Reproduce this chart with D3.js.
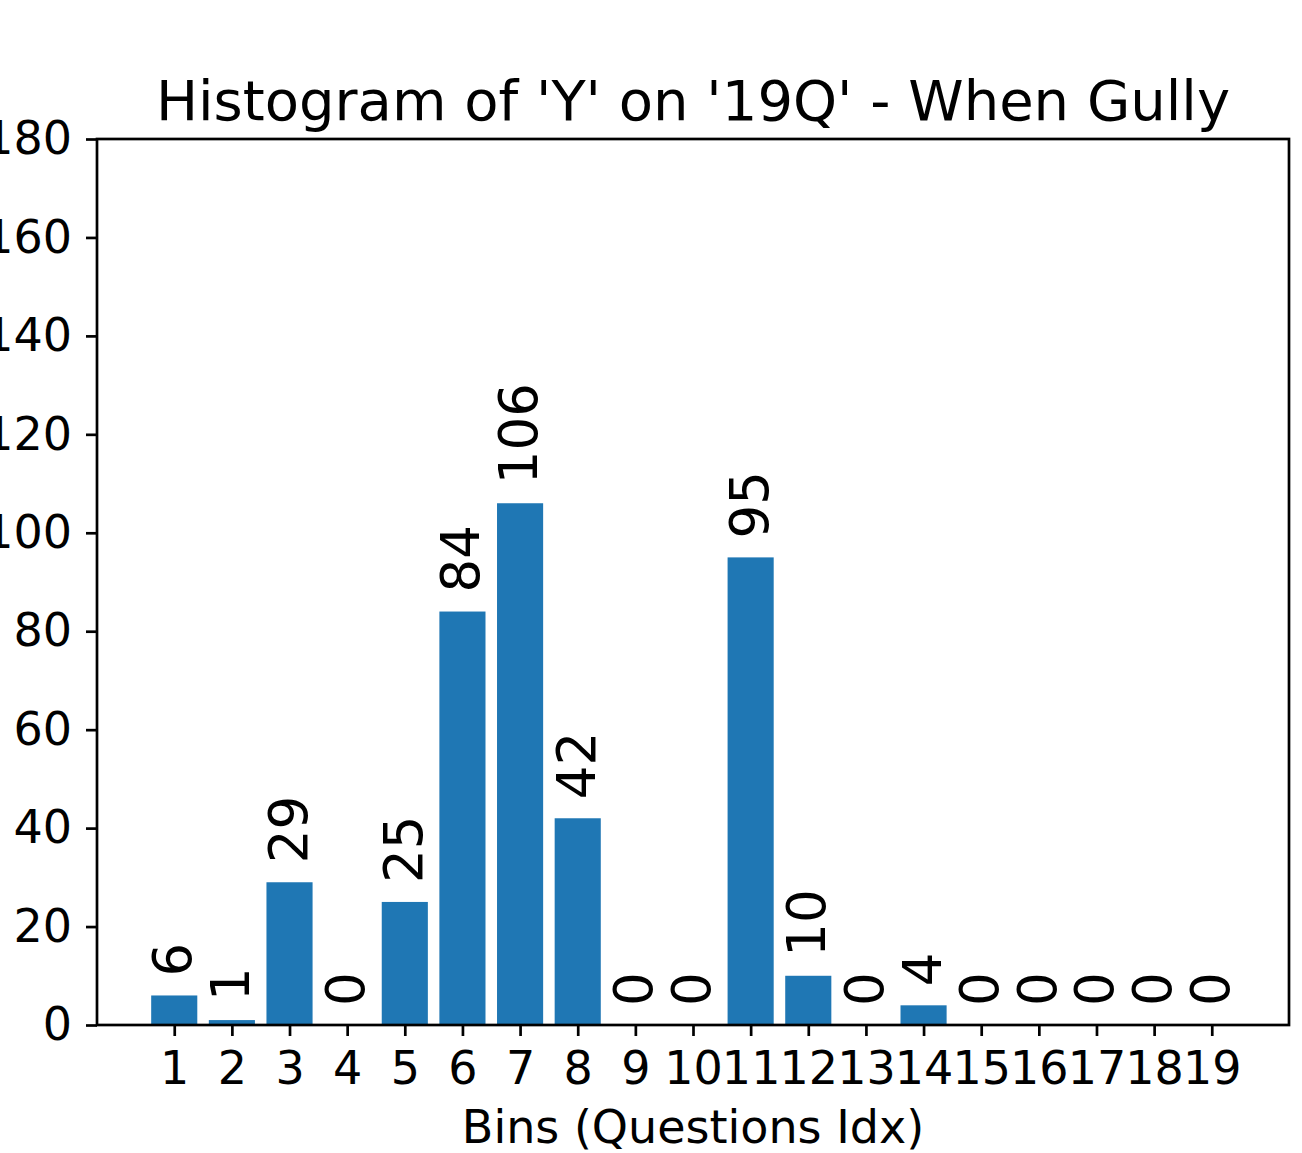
<!DOCTYPE html>
<html>
<head>
<meta charset="utf-8">
<script src="https://cdn.jsdelivr.net/npm/d3@7"></script>
<style>
  body { margin: 0; background: #fff; }
  text { font-family: "DejaVu Sans", sans-serif; fill: #000; }
</style>
</head>
<body>
<div id="chart"></div>
<script>
// chart data
const bins = [1, 2, 3, 4, 5, 6, 7, 8, 9, 10, 11, 12, 13, 14, 15, 16, 17, 18, 19];
const counts = [6, 1, 29, 0, 25, 84, 106, 42, 0, 0, 95, 10, 0, 4, 0, 0, 0, 0, 0];
const yTicks = [0, 20, 40, 60, 80, 100, 120, 140, 160, 180];

const svgWidth = 1302;
const svgHeight = 1153;

const margin = { top: 139, right: 13, bottom: 128, left: 97 };
const width = svgWidth - margin.left - margin.right;
const height = svgHeight - margin.top - margin.bottom;

const svg = d3.select("#chart")
  .append("svg")
  .attr("width", svgWidth)
  .attr("height", svgHeight);

const chartGroup = svg.append("g")
  .attr("transform", `translate(${margin.left}, ${margin.top})`);

// x scale like matplotlib: bars from 0.6..19.4 plus 5% margin
const xLinearScale = d3.scaleLinear()
  .domain([-0.34, 20.34])
  .range([0, width]);

const yLinearScale = d3.scaleLinear()
  .domain([0, 180])
  .range([height, 0]);

const barW = xLinearScale(0.8) - xLinearScale(0);

// bars
chartGroup.selectAll("rect.bar")
  .data(bins)
  .enter()
  .append("rect")
  .attr("class", "bar")
  .attr("x", (d, i) => xLinearScale(d - 0.4))
  .attr("y", (d, i) => yLinearScale(counts[i]))
  .attr("width", barW)
  .attr("height", (d, i) => height - yLinearScale(counts[i]))
  .attr("fill", "#1f77b4");

// value labels, rotated
chartGroup.selectAll("text.val")
  .data(bins)
  .enter()
  .append("text")
  .attr("class", "val")
  .attr("transform", (d, i) => `translate(${xLinearScale(d) + 17}, ${yLinearScale(counts[i]) - 19}) rotate(-90)`)
  .attr("text-anchor", "start")
  .style("font-size", "53px")
  .text((d, i) => counts[i]);

// axes
const bottomAxis = d3.axisBottom(xLinearScale)
  .tickValues(bins)
  .tickSize(11)
  .tickPadding(15)
  .tickFormat(d3.format("d"));

const leftAxis = d3.axisLeft(yLinearScale)
  .tickValues(yTicks)
  .tickSize(11)
  .tickPadding(14);

const xAxis = chartGroup.append("g")
  .attr("transform", `translate(0, ${height})`)
  .call(bottomAxis);

const yAxis = chartGroup.append("g")
  .call(leftAxis);

[xAxis, yAxis].forEach(ax => {
  ax.select(".domain").remove();
  ax.selectAll("line").attr("stroke", "#000").attr("stroke-width", 2.7);
  ax.selectAll("text").style("font-size", "46px").attr("font-family", "DejaVu Sans").attr("fill", "#000");
});

// frame
chartGroup.append("rect")
  .attr("x", 0)
  .attr("y", 0)
  .attr("width", width)
  .attr("height", height)
  .attr("fill", "none")
  .attr("stroke", "#000")
  .attr("stroke-width", 2.7);

// title
svg.append("text")
  .attr("x", margin.left + width / 2)
  .attr("y", 120)
  .attr("text-anchor", "middle")
  .style("font-size", "56px")
  .text("Histogram of 'Y' on '19Q' - When Gully");

// x label
svg.append("text")
  .attr("x", margin.left + width / 2)
  .attr("y", 1143)
  .attr("text-anchor", "middle")
  .style("font-size", "46px")
  .text("Bins (Questions Idx)");
</script>
</body>
</html>
